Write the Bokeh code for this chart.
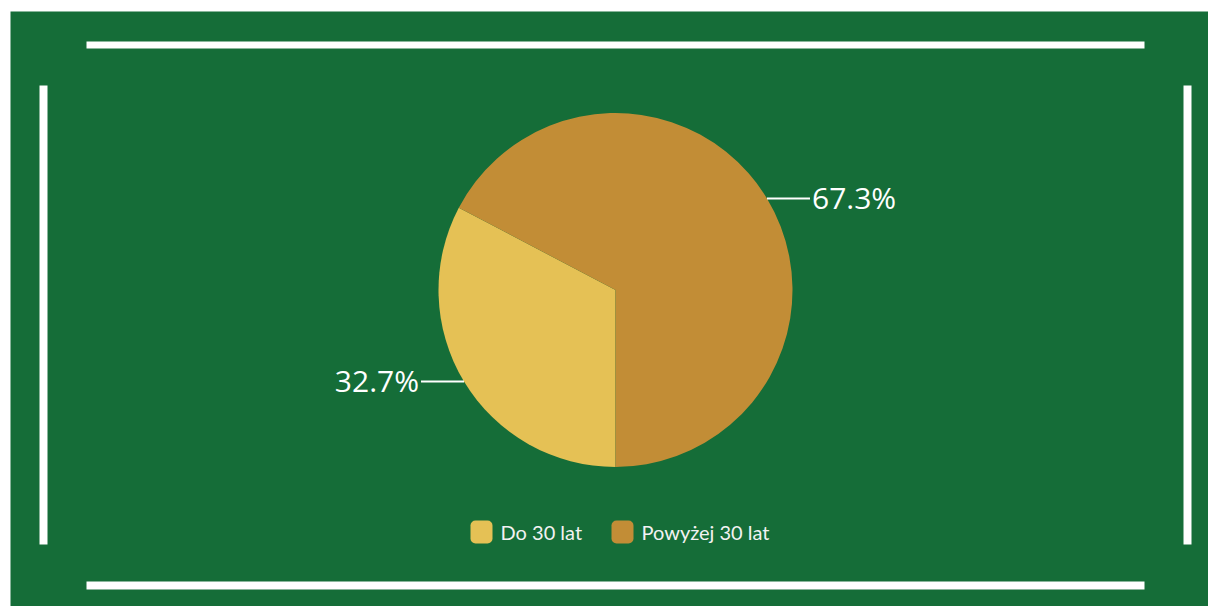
import numpy as np
from bokeh.plotting import figure
from bokeh.models import Range1d, ColumnDataSource
from bokeh.core.properties import value
from bokeh.embed import file_html
from bokeh.resources import INLINE

categories = ["Do 30 lat", "Powyżej 30 lat"]
shares = [32.7, 67.3]
colors = ["#e5c155", "#c28d36"]

GREEN = "#156d38"
W, H = 1208, 606

p = figure(width=W, height=H, x_range=Range1d(0, W), y_range=Range1d(0, H),
           output_backend="svg", toolbar_location=None,
           x_axis_type=None, y_axis_type=None, min_border=0)
p.grid.visible = False
p.outline_line_color = None
p.background_fill_color = "white"
p.border_fill_color = "white"

# green panel
p.quad(left=[10], right=[1208], bottom=[0], top=[595], fill_color=GREEN, line_color=None)
# white frame bars
p.quad(left=[86, 86, 39, 1183], right=[1144, 1144, 47, 1191],
       bottom=[558, 17, 62, 62], top=[565, 25, 521, 521],
       fill_color="white", line_color=None)

# pie
cx, cy, r = 615, 316.5, 177
frac = np.array(shares) / sum(shares)
start = 1.5 * np.pi  # bottom, clockwise
cum = np.concatenate([[0], np.cumsum(frac)])
a_begin = start - cum[:-1] * 2 * np.pi
a_end = start - cum[1:] * 2 * np.pi
src = ColumnDataSource(dict(x=[cx] * 2, y=[cy] * 2, s=a_end, e=a_begin, c=colors))
p.wedge(x="x", y="y", radius=r, start_angle="s", end_angle="e", fill_color="c",
        line_color=None, source=src)

# labels with connectors
mid = (a_begin + a_end) / 2
for m, v in zip(mid, shares):
    ex, ey = cx + r * np.cos(m), cy + r * np.sin(m)
    side = 1 if np.cos(m) > 0 else -1
    lx = ex + side * 43
    p.line([ex, lx], [ey, ey], line_color="white", line_width=2)
    p.text(x=[lx + side * 2], y=[ey + 1], text=[f"{v}%"], text_color="white",
           text_font=value("Open Sans"), text_font_size="30px",
           text_align="left" if side > 0 else "right", text_baseline="middle")

# legend
lx0 = [470, 611]
p.quad(left=lx0, right=[x + 22 for x in lx0], bottom=[63] * 2, top=[86] * 2,
       fill_color=colors, line_color=None, border_radius=5)
p.text(x=[x + 30 for x in lx0], y=[74.5] * 2, text=categories, text_color="#f2f2f2",
       text_font=value("Lato"), text_font_size="20px", text_baseline="middle")

open("out.html", "w").write(file_html(p, INLINE))
